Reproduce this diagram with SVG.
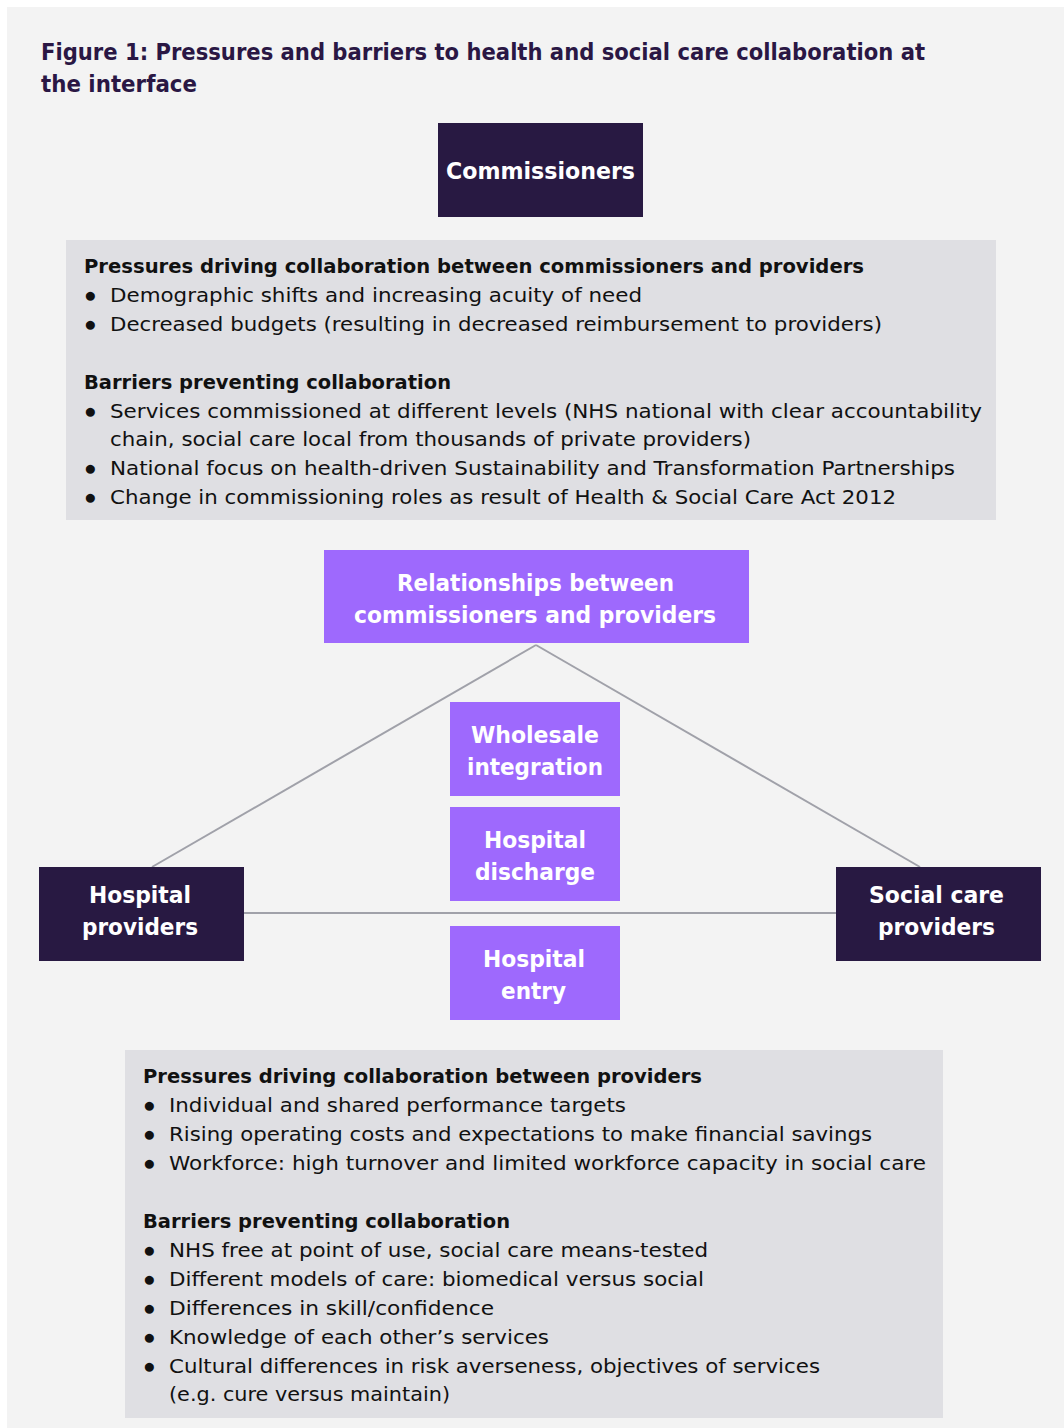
<svg xmlns="http://www.w3.org/2000/svg" width="1064" height="1428" viewBox="0 0 1064 1428">
  <style>
    text { font-family: "DejaVu Sans", "Liberation Sans", Arial, sans-serif; }
    .title { font-weight: bold; font-size: 23px; fill: #2a1744; }
    .dark { fill: #281942; }
    .violet { fill: #9e69fd; }
    .panel { fill: #dfdfe3; }
    .label { font-weight: bold; font-size: 23px; fill: #ffffff; }
    .head { font-weight: bold; font-size: 20px; fill: #111111; }
    .body { font-size: 20px; fill: #111111; }
    .dot { font-family: "Liberation Sans", Arial, sans-serif; font-size: 21px; fill: #111111; }
    .link { stroke: #a0a1a9; stroke-width: 2; fill: none; }
  </style>

  <rect x="0" y="0" width="1064" height="1428" fill="#ffffff"/>
  <rect x="7" y="7" width="1057" height="1421" fill="#f3f3f3"/>

  <text class="title" x="41" y="60" textLength="884" lengthAdjust="spacingAndGlyphs">Figure 1: Pressures and barriers to health and social care collaboration at</text>
  <text class="title" x="41" y="92" textLength="156" lengthAdjust="spacingAndGlyphs">the interface</text>

  <!-- connectors -->
  <g id="connectors">
    <line class="link" x1="536" y1="645" x2="152" y2="867"/>
    <line class="link" x1="536" y1="645" x2="920" y2="867"/>
    <line class="link" x1="244" y1="913" x2="836" y2="913" stroke-width="2.5"/>
  </g>

  <g id="commissioners">
    <rect class="dark" x="438" y="123" width="205" height="94"/>
    <text class="label" x="446" y="179" textLength="189" lengthAdjust="spacingAndGlyphs">Commissioners</text>
  </g>

  <g id="commissioner-pressures">
    <rect class="panel" x="66" y="240" width="930" height="280"/>
    <text class="head" x="84" y="273" textLength="780" lengthAdjust="spacingAndGlyphs">Pressures driving collaboration between commissioners and providers</text>
    <text class="dot" x="84" y="302">●</text>
    <text class="body" x="110" y="302" textLength="532" lengthAdjust="spacingAndGlyphs">Demographic shifts and increasing acuity of need</text>
    <text class="dot" x="84" y="331">●</text>
    <text class="body" x="110" y="331" textLength="772" lengthAdjust="spacingAndGlyphs">Decreased budgets (resulting in decreased reimbursement to providers)</text>
    <text class="head" x="84" y="389" textLength="367" lengthAdjust="spacingAndGlyphs">Barriers preventing collaboration</text>
    <text class="dot" x="84" y="418">●</text>
    <text class="body" x="110" y="418" textLength="872" lengthAdjust="spacingAndGlyphs">Services commissioned at different levels (NHS national with clear accountability</text>
    <text class="body" x="110" y="446" textLength="641" lengthAdjust="spacingAndGlyphs">chain, social care local from thousands of private providers)</text>
    <text class="dot" x="84" y="475">●</text>
    <text class="body" x="110" y="475" textLength="845" lengthAdjust="spacingAndGlyphs">National focus on health-driven Sustainability and Transformation Partnerships</text>
    <text class="dot" x="84" y="504">●</text>
    <text class="body" x="110" y="504" textLength="786" lengthAdjust="spacingAndGlyphs">Change in commissioning roles as result of Health &amp; Social Care Act 2012</text>
  </g>

  <g id="relationships">
    <rect class="violet" x="324" y="550" width="425" height="93"/>
    <text class="label" x="397" y="591" textLength="277" lengthAdjust="spacingAndGlyphs">Relationships between</text>
    <text class="label" x="354" y="623" textLength="362" lengthAdjust="spacingAndGlyphs">commissioners and providers</text>
  </g>

  <g id="wholesale-integration">
    <rect class="violet" x="450" y="702" width="170" height="94"/>
    <text class="label" x="471" y="743" textLength="128" lengthAdjust="spacingAndGlyphs">Wholesale</text>
    <text class="label" x="467" y="775" textLength="136" lengthAdjust="spacingAndGlyphs">integration</text>
  </g>

  <g id="hospital-discharge">
    <rect class="violet" x="450" y="807" width="170" height="94"/>
    <text class="label" x="484" y="848" textLength="102" lengthAdjust="spacingAndGlyphs">Hospital</text>
    <text class="label" x="475" y="880" textLength="120" lengthAdjust="spacingAndGlyphs">discharge</text>
  </g>

  <g id="hospital-entry">
    <rect class="violet" x="450" y="926" width="170" height="94"/>
    <text class="label" x="483" y="967" textLength="102" lengthAdjust="spacingAndGlyphs">Hospital</text>
    <text class="label" x="501" y="999" textLength="65" lengthAdjust="spacingAndGlyphs">entry</text>
  </g>

  <g id="hospital-providers">
    <rect class="dark" x="39" y="867" width="205" height="94"/>
    <text class="label" x="89" y="903" textLength="102" lengthAdjust="spacingAndGlyphs">Hospital</text>
    <text class="label" x="82" y="935" textLength="116" lengthAdjust="spacingAndGlyphs">providers</text>
  </g>

  <g id="social-care-providers">
    <rect class="dark" x="836" y="867" width="205" height="94"/>
    <text class="label" x="869" y="903" textLength="135" lengthAdjust="spacingAndGlyphs">Social care</text>
    <text class="label" x="878" y="935" textLength="117" lengthAdjust="spacingAndGlyphs">providers</text>
  </g>

  <g id="provider-pressures">
    <rect class="panel" x="125" y="1050" width="818" height="368"/>
    <text class="head" x="143" y="1083" textLength="559" lengthAdjust="spacingAndGlyphs">Pressures driving collaboration between providers</text>
    <text class="dot" x="143" y="1112">●</text>
    <text class="body" x="169" y="1112" textLength="457" lengthAdjust="spacingAndGlyphs">Individual and shared performance targets</text>
    <text class="dot" x="143" y="1141">●</text>
    <text class="body" x="169" y="1141" textLength="703" lengthAdjust="spacingAndGlyphs">Rising operating costs and expectations to make financial savings</text>
    <text class="dot" x="143" y="1170">●</text>
    <text class="body" x="169" y="1170" textLength="757" lengthAdjust="spacingAndGlyphs">Workforce: high turnover and limited workforce capacity in social care</text>
    <text class="head" x="143" y="1228" textLength="367" lengthAdjust="spacingAndGlyphs">Barriers preventing collaboration</text>
    <text class="dot" x="143" y="1257">●</text>
    <text class="body" x="169" y="1257" textLength="539" lengthAdjust="spacingAndGlyphs">NHS free at point of use, social care means-tested</text>
    <text class="dot" x="143" y="1286">●</text>
    <text class="body" x="169" y="1286" textLength="535" lengthAdjust="spacingAndGlyphs">Different models of care: biomedical versus social</text>
    <text class="dot" x="143" y="1315">●</text>
    <text class="body" x="169" y="1315" textLength="325" lengthAdjust="spacingAndGlyphs">Differences in skill/confidence</text>
    <text class="dot" x="143" y="1344">●</text>
    <text class="body" x="169" y="1344" textLength="380" lengthAdjust="spacingAndGlyphs">Knowledge of each other’s services</text>
    <text class="dot" x="143" y="1373">●</text>
    <text class="body" x="169" y="1373" textLength="651" lengthAdjust="spacingAndGlyphs">Cultural differences in risk averseness, objectives of services</text>
    <text class="body" x="169" y="1401" textLength="281" lengthAdjust="spacingAndGlyphs">(e.g. cure versus maintain)</text>
  </g>
</svg>
